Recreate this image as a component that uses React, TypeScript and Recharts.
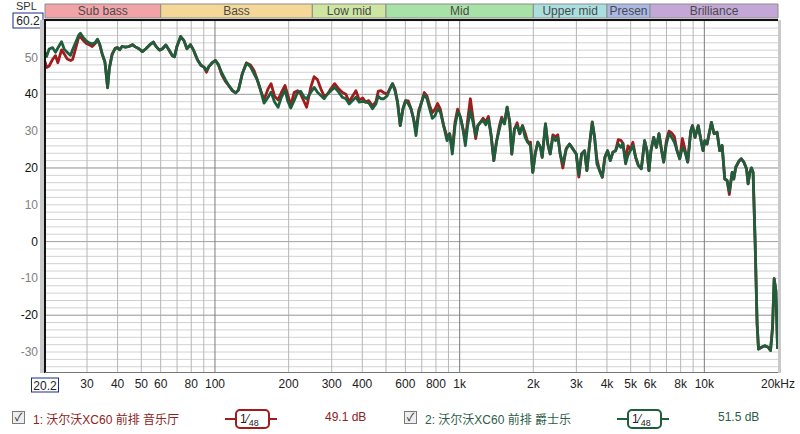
import React from "react"
import {
  ComposedChart,
  Line,
  XAxis,
  YAxis,
  CartesianGrid,
  ReferenceArea,
  ReferenceLine,
} from "recharts"

const FONT = '"Liberation Sans", Arial, "Noto Sans CJK SC", sans-serif'
const RED = "#a11c1c"
const GREEN = "#1f5e3c"

// frequency points (Hz)
const freqs = [
  20.2, 20.5, 21.0, 21.7, 22.3, 22.8, 23.6, 24.2, 24.9, 25.7,
  26.2, 27.0, 27.7, 28.2, 29.0, 29.8, 30.6, 31.5, 32.4, 33.1,
  33.8, 34.6, 35.5, 36.0, 36.4, 37.0, 38.0, 39.1, 39.9, 40.8,
  41.7, 43.1, 44.5, 46.0, 47.3, 48.9, 50.5, 52.2, 54.2, 56.0,
  57.3, 59.3, 61.0, 63.0, 64.8, 67.0, 68.3, 69.9, 72.4, 74.7,
  76.8, 79.4, 82.0, 84.8, 87.6, 90.2, 92.3, 94.5, 97.5, 100.5,
  103.4, 106.3, 110.4, 114.1, 117.9, 121.3, 124.8, 129.3, 134.5, 139.7,
  144.4, 149.0, 153.8, 158.7, 164.8, 169.5, 175.2, 181.1, 186.8, 193.4,
  198.1, 204.1, 210.6, 217.7, 224.3, 231.4, 236.9, 246.5, 254.3, 262.3,
  270.8, 279.4, 288.2, 297.6, 308.4, 320.3, 331.9, 342.8, 353.6, 364.8,
  376.7, 388.6, 401.7, 413.0, 424.9, 440.4, 454.7, 464.7, 476.7, 488.5,
  504.4, 520.3, 531.7, 543.9, 557.4, 571.8, 586.5, 601.2, 616.6, 632.5,
  648.2, 663.0, 679.5, 698.9, 716.9, 735.5, 753.7, 773.2, 793.1, 812.7,
  833.7, 860.0, 888.0, 910.1, 933.5, 957.6, 981.3, 1007, 1032, 1055,
  1078, 1106, 1134, 1163, 1187, 1215, 1247, 1278, 1311, 1345,
  1379, 1413, 1454, 1486, 1524, 1563, 1602, 1633, 1675, 1718,
  1760, 1806, 1852, 1898, 1947, 1990, 2035, 2086, 2139, 2174,
  2243, 2292, 2344, 2403, 2465, 2519, 2576, 2640, 2726, 2812,
  2901, 2996, 3070, 3150, 3240, 3311, 3396, 3483, 3560, 3638,
  3731, 3828, 3922, 4023, 4127, 4229, 4338, 4450, 4560, 4647,
  4767, 4872, 4983, 5106, 5238, 5372, 5527, 5702, 5827, 5938,
  6051, 6208, 6368, 6526, 6693, 6821, 6997, 7170, 7356, 7545,
  7733, 7932, 8136, 8337, 8551, 8797, 8941, 9162, 9444, 9640,
  9880, 10040, 10260, 10690, 10960, 11270, 11560, 11820, 12120, 12390,
  12650, 12990, 13190, 13440, 13830, 14160, 14500, 14870, 15100, 15340,
  15590, 15820, 16120, 16430, 16650, 17130, 17670, 18230, 18640, 19000,
  19290, 19600, 19920,
]

// 1: 沃尔沃XC60 前排 音乐厅 (red)
const splHall = [
  48.9, 47.3, 47.7, 49.5, 50.5, 48.6, 52.1, 51.0, 49.6, 49.2,
  49.5, 52.6, 55.4, 55.6, 54.6, 53.8, 53.5, 53.0, 53.8, 54.8,
  53.5, 51.0, 48.8, 45.0, 41.8, 47.0, 50.9, 52.5, 52.7, 52.1,
  53.0, 52.8, 53.0, 53.5, 52.9, 52.4, 51.6, 52.4, 53.5, 54.2,
  53.1, 52.0, 52.4, 53.4, 52.1, 50.5, 50.2, 53.0, 55.7, 54.6,
  52.4, 53.5, 51.8, 49.4, 47.9, 47.4, 46.0, 47.6, 48.6, 49.2,
  48.0, 45.5, 43.5, 42.3, 41.0, 40.4, 41.2, 45.6, 48.5, 48.0,
  46.5, 43.9, 41.0, 38.5, 41.5, 42.9, 39.5, 38.5, 40.5, 42.4,
  40.0, 37.0, 40.5, 41.0, 40.0, 38.0, 36.5, 42.0, 44.8, 44.0,
  41.5, 39.5, 40.0, 41.5, 42.9, 41.5, 40.5, 40.0, 38.0, 39.5,
  41.0, 38.5, 39.0, 37.9, 38.3, 36.8, 38.0, 40.8, 41.0, 40.5,
  40.0, 41.7, 42.9, 41.5, 37.9, 31.5, 36.1, 38.3, 38.2, 36.1,
  33.3, 30.0, 35.5, 37.9, 40.5, 39.5, 37.0, 35.0, 36.0, 37.5,
  36.0, 31.5, 28.5, 29.3, 25.0, 32.5, 36.0, 33.8, 30.6, 27.5,
  33.0, 38.8, 33.5, 28.0, 31.5, 32.4, 33.5, 32.5, 34.0, 28.8,
  22.0, 27.0, 31.5, 33.8, 32.0, 36.5, 32.4, 23.8, 30.6, 32.3,
  29.3, 31.5, 29.5, 27.0, 27.0, 18.8, 23.8, 27.0, 25.6, 22.9,
  32.0, 26.5, 23.8, 29.0, 28.5, 29.0, 23.8, 20.0, 25.2, 26.5,
  25.2, 23.8, 17.5, 23.8, 24.7, 19.3, 26.5, 32.5, 28.3, 22.5,
  19.3, 17.5, 22.9, 24.7, 22.0, 24.3, 24.7, 27.7, 27.5, 26.7,
  22.0, 26.0, 25.0, 27.0, 22.9, 20.7, 19.8, 27.4, 24.7, 19.3,
  24.7, 28.3, 25.6, 29.3, 24.7, 21.6, 27.5, 30.0, 29.5, 28.5,
  24.7, 22.5, 28.0, 25.0, 21.6, 30.0, 31.5, 28.3, 31.5, 28.3,
  24.7, 27.4, 26.5, 32.4, 29.3, 29.7, 24.7, 26.1, 17.0, 16.6,
  12.8, 18.8, 17.0, 20.2, 21.8, 22.5, 21.6, 19.8, 15.7, 18.8,
  20.0, 18.8, 0.3, -22.4, -29.2, -28.7, -28.3, -28.7, -29.6, -23.3,
  -10.1, -13.3, -29.2,
]

// 2: 沃尔沃XC60 前排 爵士乐 (green)
const splJazz = [
  51.4, 50.3, 52.3, 52.7, 51.4, 52.6, 54.3, 52.3, 51.4, 50.6,
  52.2, 54.2, 56.0, 56.6, 55.4, 54.5, 54.0, 53.7, 54.1, 55.0,
  53.6, 51.0, 48.8, 45.0, 41.8, 47.0, 50.9, 52.5, 52.7, 52.1,
  53.0, 52.8, 53.0, 53.5, 52.9, 52.4, 51.6, 52.4, 53.5, 54.2,
  53.1, 52.0, 52.4, 53.4, 52.1, 50.5, 50.2, 53.0, 55.7, 54.6,
  52.4, 53.5, 51.8, 49.4, 47.9, 47.4, 46.5, 47.6, 48.6, 49.2,
  48.0, 46.0, 43.9, 42.3, 41.0, 40.4, 41.2, 45.6, 48.5, 47.5,
  45.6, 43.9, 41.0, 37.6, 39.2, 40.6, 37.9, 36.5, 39.2, 41.2,
  38.3, 36.3, 38.3, 40.6, 40.8, 39.2, 38.8, 40.6, 41.9, 40.6,
  39.7, 38.8, 40.1, 41.0, 41.9, 40.6, 39.2, 38.8, 37.4, 38.3,
  39.2, 37.9, 38.1, 37.9, 37.7, 36.1, 37.4, 39.5, 38.8, 38.8,
  39.5, 41.7, 42.9, 41.0, 37.9, 31.5, 36.1, 38.3, 37.4, 36.1,
  33.3, 28.8, 34.7, 37.9, 39.9, 38.8, 36.1, 33.5, 34.2, 36.1,
  35.2, 31.5, 27.4, 29.3, 23.8, 31.5, 35.2, 33.8, 30.6, 26.1,
  31.5, 35.6, 32.4, 28.8, 31.5, 32.4, 32.9, 31.7, 33.3, 28.8,
  22.0, 27.0, 30.6, 33.3, 32.0, 36.5, 32.4, 23.8, 30.6, 31.5,
  29.3, 31.5, 28.3, 27.0, 26.1, 18.8, 23.8, 27.0, 25.6, 22.9,
  32.0, 26.5, 23.8, 28.3, 27.4, 28.3, 23.8, 21.1, 25.2, 26.5,
  25.2, 23.8, 18.2, 23.8, 24.7, 19.3, 26.5, 32.4, 28.3, 21.1,
  19.3, 17.5, 22.9, 24.7, 22.0, 24.3, 24.7, 26.5, 25.6, 26.7,
  21.1, 23.4, 24.7, 26.1, 22.9, 20.7, 19.8, 27.4, 24.7, 19.3,
  24.7, 28.3, 25.6, 29.3, 24.7, 21.6, 26.5, 29.3, 28.3, 27.0,
  24.7, 22.5, 25.6, 24.3, 21.6, 30.0, 31.5, 28.3, 31.5, 28.3,
  24.7, 27.4, 26.5, 32.4, 29.3, 29.7, 24.7, 26.1, 17.0, 16.6,
  13.6, 18.8, 17.0, 20.2, 21.8, 22.5, 21.6, 19.8, 15.7, 18.8,
  20.0, 18.8, 0.3, -22.4, -29.2, -28.7, -28.3, -28.7, -29.6, -23.3,
  -10.1, -13.3, -29.2,
]

const bandNames = ["Sub bass", "Bass", "Low mid", "Mid", "Upper mid", "Presen", "Brilliance"]
const bandEdges = [20.2, 60, 250, 500, 2000, 4000, 6000, 20000]
const bandColors = ["#f2a3a7", "#f5d898", "#cfe6a2", "#a9e2a6", "#a9e0df", "#aab8e6", "#c3a7d7"]

const xTicks = [20.2, 30, 40, 50, 60, 80, 100, 200, 300, 400, 600, 800, 1000, 2000, 3000, 4000, 5000, 6000, 8000, 10000, 20000]
const yTicks = [-30, -20, -10, 0, 10, 20, 30, 40, 50, 60.2]
const minorX = [30, 40, 50, 60, 70, 80, 90, 200, 300, 400, 500, 600, 700, 800, 900, 2000, 3000, 4000, 5000, 6000, 7000, 8000, 9000]
const majorX = [100, 1000, 10000]
const darkY = [40, 20, 0, -20]
const gridY = Array.from({ length: 48 }, (_, i) => -34 + i * 2)

const data = freqs.map((f, i) => ({ f, hall: splHall[i], jazz: splJazz[i] }))

function fmtFreq(v: number) {
  if (v === 20000) return "20kHz"
  if (v >= 1000) return v / 1000 + "k"
  return String(v)
}

function XTick({ x, y, payload }: any) {
  const v = payload.value
  if (v === 20.2) {
    return (
      <g>
        <rect x={x - 13.5} y={y + 5} width={27} height={14} fill="#fff" stroke="#1b2a8a" />
        <text x={x} y={y + 12.5} textAnchor="middle" dominantBaseline="central" fontSize={12} fill="#222" fontFamily={FONT}>
          20.2
        </text>
      </g>
    )
  }
  return (
    <text x={x} y={y + 11} textAnchor="middle" dominantBaseline="central" fontSize={12} fill="#222" fontFamily={FONT}>
      {fmtFreq(v)}
    </text>
  )
}

function YTick({ y, payload }: any) {
  const v = payload.value
  if (v === 60.2) {
    return (
      <g>
        <rect x={13} y={y - 7} width={30} height={15} fill="#fff" stroke="#1b2a8a" />
        <text x={28} y={y + 0.5} textAnchor="middle" dominantBaseline="central" fontSize={12} fill="#222" fontFamily={FONT}>
          60.2
        </text>
      </g>
    )
  }
  const dark = darkY.includes(v)
  return (
    <text x={38} y={y} textAnchor="end" dominantBaseline="central" fontSize={12} fill={dark ? "#111" : "#808080"} fontFamily={FONT}>
      {v}
    </text>
  )
}

function LegendItem({ left, color, textColor, label, level, symLeft, levelLeft }: any) {
  return (
    <>
      <div
        style={{
          position: "absolute", left, top: 411, width: 11, height: 11,
          border: "1px solid #7a7a7a", background: "#eee", fontSize: 11, lineHeight: "11px",
          textAlign: "center", color: "#222",
        }}
      >
        ✓
      </div>
      <div style={{ position: "absolute", left: left + 21, top: 410, fontSize: 12, color: textColor, whiteSpace: "nowrap" }}>
        {label}
      </div>
      <div style={{ position: "absolute", left: symLeft, top: 418, width: 52, height: 2, background: color }} />
      <div
        style={{
          position: "absolute", left: symLeft + 10, top: 409, width: 28, height: 16,
          border: `2px solid ${color}`, borderRadius: 5, background: "#fff",
          fontSize: 12, color: "#222", lineHeight: "16px", paddingLeft: 3, boxSizing: "content-box",
        }}
      >
        1⁄<span style={{ fontSize: 9, position: "relative", top: 3 }}>48</span>
      </div>
      <div style={{ position: "absolute", left: levelLeft, top: 410, fontSize: 12, color: textColor }}>{level}</div>
    </>
  )
}

export default function App() {
  return (
    <div style={{ position: "absolute", left: 0, top: 0, width: 800, height: 434, background: "#fff", fontFamily: FONT, overflow: "hidden" }}>
      <div style={{ position: "absolute", left: 16, top: 0, fontSize: 11, lineHeight: "12px", color: "#333" }}>SPL</div>
      <div style={{ position: "absolute", left: 0, top: 0 }}>
        <ComposedChart width={800} height={434} data={data} margin={{ top: 20, right: 22, bottom: 0, left: 0 }}>
          <CartesianGrid vertical={false} horizontalValues={gridY} stroke="#d2d2d2" strokeWidth={1} />
          <CartesianGrid horizontal={false} verticalValues={minorX} stroke="#b6b6b6" strokeWidth={1} />
          {darkY.map((v) => (
            <ReferenceLine key={"y" + v} y={v} stroke="#a6a6a6" strokeWidth={1} />
          ))}
          {majorX.map((v) => (
            <ReferenceLine key={"x" + v} x={v} stroke="#7c7c7c" strokeWidth={1} />
          ))}
          {bandNames.map((name, i) => (
            <ReferenceArea
              key={name}
              x1={bandEdges[i]}
              x2={bandEdges[i + 1]}
              y1={60.74}
              y2={64.55}
              ifOverflow="visible"
              fill={bandColors[i]}
              fillOpacity={1}
              stroke="#8c8c8c"
              strokeWidth={1}
              label={{ value: name, position: "center", fill: "#4a4a4a", fontSize: 12, fontFamily: FONT }}
            />
          ))}
          <XAxis
            dataKey="f"
            type="number"
            scale="log"
            domain={[20.2, 20000]}
            allowDataOverflow
            ticks={xTicks}
            interval={0}
            height={61}
            axisLine={false}
            tickLine={false}
            tickSize={0}
            tickMargin={0}
            tick={<XTick />}
          />
          <YAxis
            type="number"
            domain={[-35.7, 60.2]}
            allowDataOverflow
            ticks={yTicks}
            interval={0}
            width={45}
            axisLine={false}
            tickLine={false}
            tickSize={0}
            tickMargin={0}
            tick={<YTick />}
          />
          <Line dataKey="hall" stroke={RED} strokeWidth={2.8} dot={false} type="linear" isAnimationActive={false} strokeLinejoin="round" />
          <Line dataKey="jazz" stroke={GREEN} strokeWidth={2.8} dot={false} type="linear" isAnimationActive={false} strokeLinejoin="round" />
        </ComposedChart>
      </div>
      {/* plot frame */}
      <div style={{ position: "absolute", left: 40, top: 20, width: 4, height: 353, background: "#c9c9c9" }} />
      <div style={{ position: "absolute", left: 44, top: 19, width: 2, height: 354, background: "#111" }} />
      <div style={{ position: "absolute", left: 44, top: 19, width: 734, height: 2, background: "#111" }} />
      <div style={{ position: "absolute", left: 778, top: 20, width: 3, height: 353, background: "#c9c9c9" }} />
      <div style={{ position: "absolute", left: 45, top: 372, width: 733, height: 1, background: "#777" }} />

      <LegendItem left={12} color={RED} textColor="#8e2222" label="1: 沃尔沃XC60 前排 音乐厅" level="49.1 dB" symLeft={225} levelLeft={325} />
      <LegendItem left={404} color={GREEN} textColor="#2b6047" label="2: 沃尔沃XC60 前排 爵士乐" level="51.5 dB" symLeft={617} levelLeft={718} />
    </div>
  )
}
